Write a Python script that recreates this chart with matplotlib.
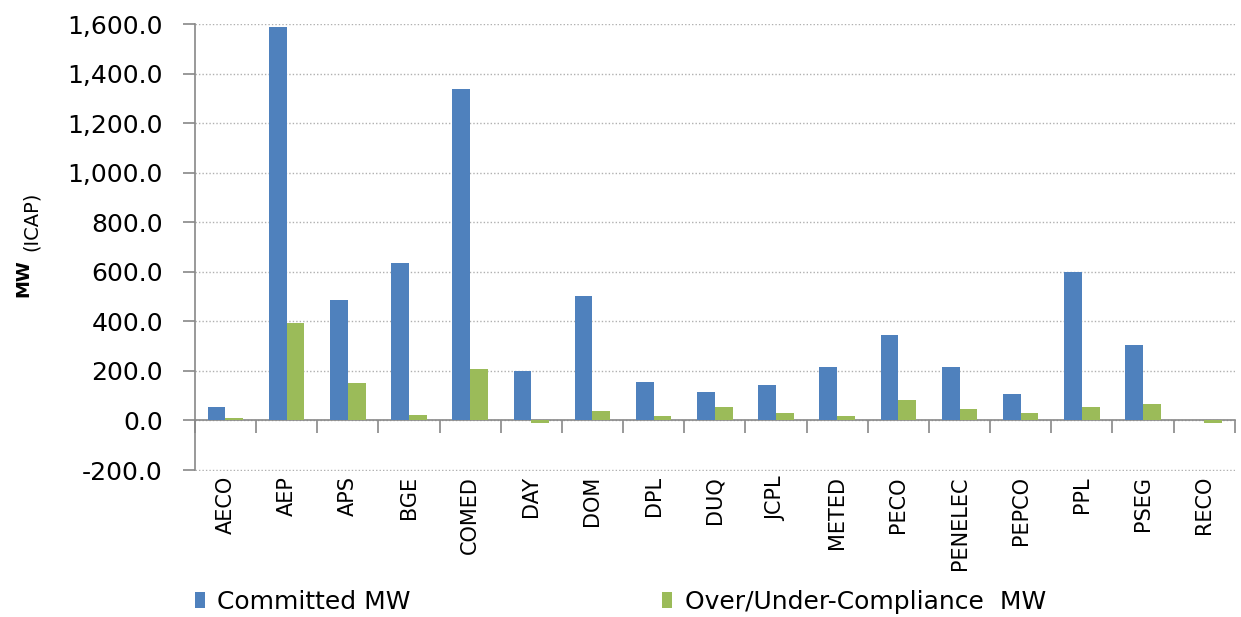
import numpy as np
import matplotlib.pyplot as plt
from matplotlib.ticker import FuncFormatter

# DATA
zones = ['AECO', 'AEP', 'APS', 'BGE', 'COMED', 'DAY', 'DOM', 'DPL', 'DUQ', 'JCPL',
         'METED', 'PECO', 'PENELEC', 'PEPCO', 'PPL', 'PSEG', 'RECO']
committed = [54, 1590, 488, 637, 1338, 200, 504, 157, 113, 144,
             216, 347, 216, 106, 600, 306, 0]
over_under = [9, 395, 150, 23, 208, -10, 39, 17, 55, 32,
              17, 83, 47, 32, 55, 68, -10]
y_ticks = [-200, 0, 200, 400, 600, 800, 1000, 1200, 1400, 1600]

blue = '#4F81BD'
green = '#9BBB59'

plt.rcParams['font.family'] = ['DejaVu Sans']

fig = plt.figure(figsize=(12.41, 6.17), dpi=100)
ax = fig.add_axes([0.157, 0.237, 0.838, 0.724])

x = np.arange(len(zones))
w = 0.29
ax.bar(x - w / 2, committed, w, color=blue, label='Committed MW', zorder=3)
ax.bar(x + w / 2, over_under, w, color=green, label='Over/Under-Compliance  MW', zorder=3)

ax.set_xlim(-0.5, len(zones) - 0.5)
ax.set_ylim(-203, 1600)
ax.set_yticks(y_ticks)
ax.yaxis.set_major_formatter(FuncFormatter(lambda v, p: '{:,.1f}'.format(v)))
ax.yaxis.grid(True, linestyle=(0, (1, 1.5)), color='#b0b0b0', linewidth=1, zorder=0)

# category labels, ticks between categories
ax.set_xticks(x)
ax.set_xticklabels(zones)
ax.set_xticks(np.arange(len(zones) + 1) - 0.5, minor=True)
ax.tick_params(axis='x', which='major', length=0, labelsize=15, pad=40, labelrotation=90)
ax.tick_params(axis='x', which='minor', length=9, color='#888888', width=1.2)
ax.tick_params(axis='y', length=9, color='#888888', width=1.2, labelsize=18, pad=14)
for lab in ax.get_xticklabels():
    lab.set_va('top')

for s in ['top', 'right']:
    ax.spines[s].set_visible(False)
ax.spines['bottom'].set_position(('data', 0))
ax.spines['bottom'].set_color('#888888')
ax.spines['bottom'].set_linewidth(1.2)
ax.spines['left'].set_color('#888888')
ax.spines['left'].set_linewidth(1.2)
ax.spines['left'].set_bounds(-200, 1600)

fig.text(0.0185, 0.549, 'MW', rotation=90, fontsize=13, fontweight='bold', va='center', ha='center')
fig.text(0.025, 0.642, '(ICAP)', rotation=90, fontsize=14, va='center', ha='center')

fig.legend(loc='center left', bbox_to_anchor=(0.139, 0.025), ncol=2, frameon=False,
           fontsize=18, handlelength=0.4, handleheight=0.6, handletextpad=0.5,
           columnspacing=10.05)

fig.savefig('out.png', dpi=100)
